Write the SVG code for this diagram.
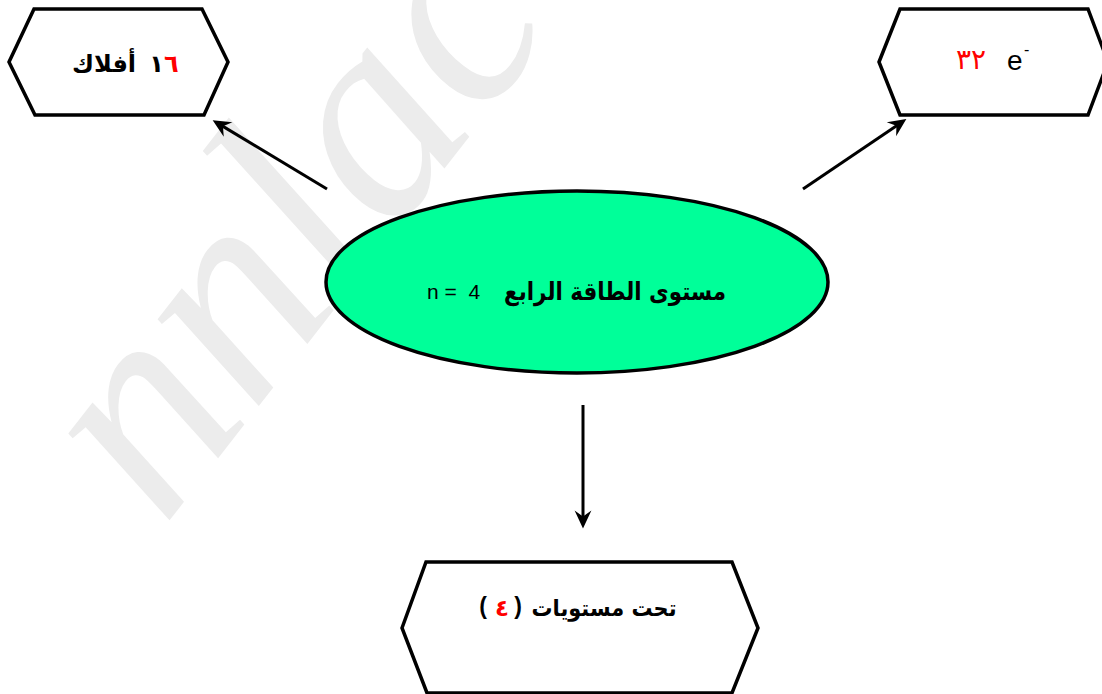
<svg xmlns="http://www.w3.org/2000/svg" width="1102" height="694" viewBox="0 0 1102 694">
<style>
.hex{fill:#ffffff;stroke:#000000;stroke-width:3.5;stroke-linejoin:miter}
.ar{font-family:"DejaVu Sans",sans-serif;font-weight:bold;fill:#000000}
.arn{font-family:"DejaVu Sans",sans-serif;fill:#000000}
.red{fill:#ff0000}
.lat{font-family:"Liberation Sans",Arial,sans-serif;fill:#000000}
.conn line{stroke:#000000;stroke-width:3}
.wm{font-family:"Liberation Serif",serif;font-style:italic;fill:#ececec}
</style>
<defs>
<marker id="ah" markerUnits="userSpaceOnUse" markerWidth="24" markerHeight="24" viewBox="-10 -10 20 20" refX="0" refY="0" orient="auto">
<path d="M8,0 L-7,-7 L-2,0 L-7,7 Z" fill="#000000"/>
</marker>
</defs>
<rect width="1102" height="694" fill="#ffffff"/>
<text class="wm" x="330" y="290" font-size="290" text-anchor="middle" transform="rotate(-52 330 250)">nnlac</text>

<g id="node-orbitals">
<polygon class="hex" points="9,62 34,9 202,9 228,62 204,115 35,115"/>
<text class="ar" x="104" y="72" font-size="24" text-anchor="middle">أفلاك</text>
<text class="ar" x="164" y="72" font-size="24" text-anchor="middle">١<tspan class="red">٦</tspan></text>
</g>

<g id="node-electrons">
<polygon class="hex" points="879,62 900,9 1088,9 1108,62 1088,115 900,115"/>
<text class="arn red" x="971" y="69" font-size="28" text-anchor="middle">٣٢</text>
<text class="lat" x="1007" y="70" font-size="28">e</text>
<text class="lat" x="1024" y="55" font-size="16">-</text>
</g>

<g id="node-level">
<ellipse cx="577" cy="282" rx="251" ry="91" fill="#00ff99" stroke="#000000" stroke-width="3.5"/>
<text class="ar" x="615" y="300" font-size="25" text-anchor="middle" textLength="222" lengthAdjust="spacingAndGlyphs">مستوى الطاقة الرابع</text>
<text class="lat" x="427" y="299" font-size="21" xml:space="preserve">n =  4</text>
</g>

<g id="node-sublevels">
<polygon class="hex" points="402,628 426,562 732,562 758,628 732,693 427,693"/>
<text class="arn" x="604" y="616" font-size="23" text-anchor="middle" font-weight="600" textLength="145" lengthAdjust="spacingAndGlyphs">تحت مستويات</text>
<text class="lat" x="483" y="614" font-size="23" text-anchor="middle" font-weight="bold">(</text>
<text class="ar red" x="502" y="616" font-size="23" text-anchor="middle">٤</text>
<text class="lat" x="518" y="614" font-size="23" text-anchor="middle" font-weight="bold">)</text>
</g>

<g id="connectors" class="conn">
<line x1="327" y1="189" x2="220.9" y2="125.1" marker-end="url(#ah)"/>
<line x1="803" y1="189" x2="898.4" y2="124.5" marker-end="url(#ah)"/>
<line x1="583" y1="405" x2="583" y2="519" marker-end="url(#ah)"/>
</g>
</svg>
